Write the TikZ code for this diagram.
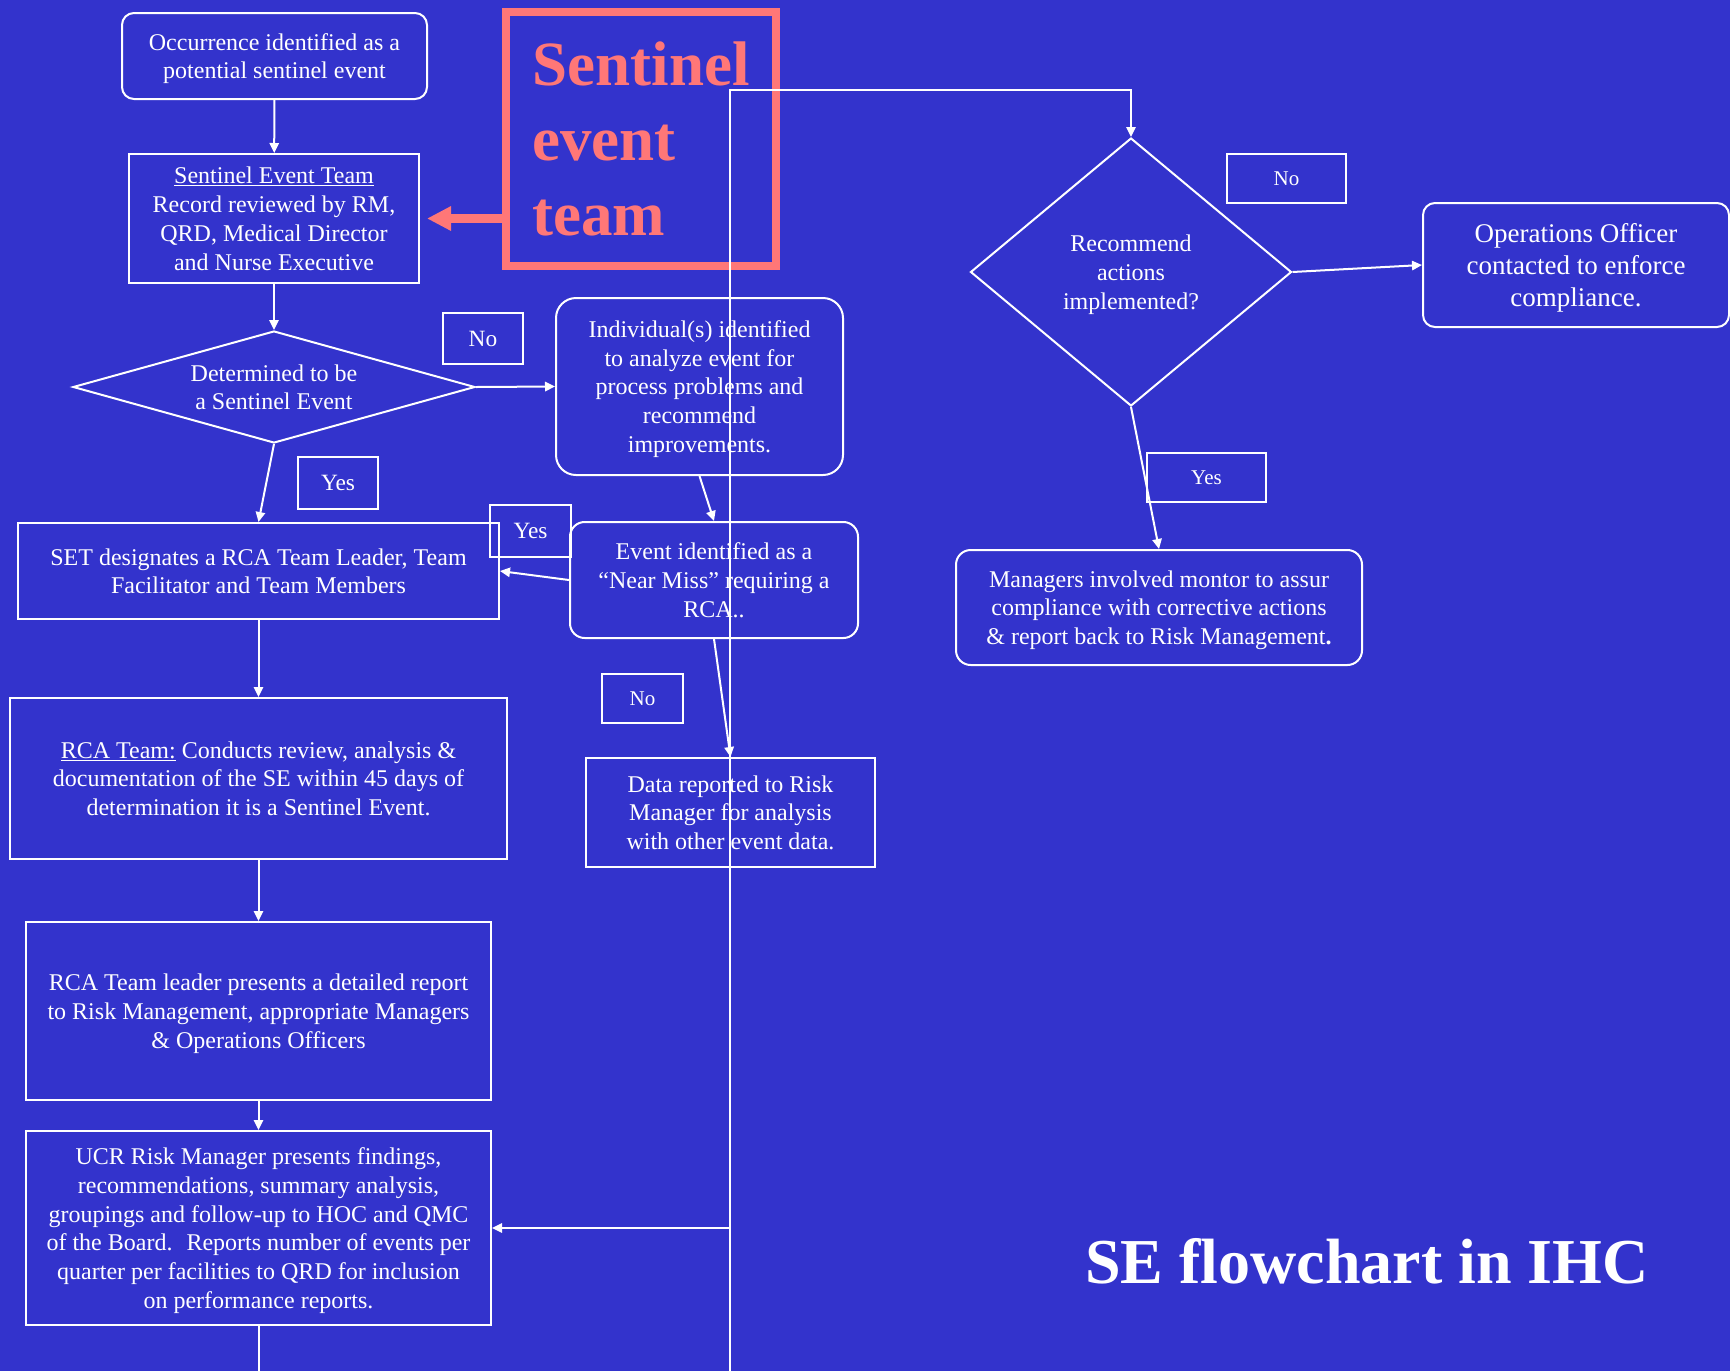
\documentclass[tikz,border=0pt]{standalone}
\usepackage{fontspec}
\setmainfont{Liberation Serif}
\usepackage{tikz}
\usetikzlibrary{shapes.geometric,arrows.meta}
\definecolor{slideblue}{RGB}{51,51,204}
\definecolor{salmon}{RGB}{255,119,119}
\tikzset{
  box/.style={draw=white,line width=1.5pt,text=white,align=center,inner sep=0pt,text depth=0pt,font=\fontsize{18}{21.5}\selectfont},
  rbox/.style={box,rounded corners=9pt},
  decision/.style={box,diamond},
  tag/.style={box,font=\fontsize{17.5}{20}\selectfont},
  smalltag/.style={box,font=\fontsize{15.75}{18}\selectfont},
  link/.style={white,line width=1.5pt,-{Triangle[length=7.5pt,width=7pt]}},
  wire/.style={white,line width=1.5pt},
}

\begin{document}
\begin{tikzpicture}[x=0.75pt,y=0.75pt,yscale=-1,xscale=1]
\fill[slideblue] (0,0) rectangle (1730,1371);
\useasboundingbox (0,0) rectangle (1730,1371);
%Title box
\node[draw=salmon,line width=6pt,text=salmon,align=left,inner sep=0pt,minimum width=202.5pt,minimum height=190.5pt,font=\bfseries\fontsize{47.25}{56.25}\selectfont] (setitle) at (641,139) {Sentinel\\event\\team};
%Rounded Rect
\node[rbox,minimum width=228.75pt,minimum height=64.5pt] (occ) at (274.5,56) {Occurrence identified as a\\potential sentinel event};
%Rect
\node[box,minimum width=217.5pt,minimum height=96.75pt,font=\fontsize{18}{21.75}\selectfont] (team) at (274,218.5) {\underline{Sentinel Event Team}\\Record reviewed by RM,\\QRD, Medical Director\\and Nurse Executive};
%Diamond
\node[decision,shape aspect=3.59,minimum width=301.5pt,minimum height=84pt] (isse) at (274,387) {Determined to be\\a Sentinel Event};
%Rect
\node[box,minimum width=360.75pt,minimum height=72pt] (setd) at (258.5,571) {SET designates a RCA Team Leader, Team\\Facilitator and Team Members};
%Rect
\node[box,minimum width=372.75pt,minimum height=120.75pt] (rca) at (258.5,778.5) {\underline{RCA Team:} Conducts review, analysis \&\\documentation of the SE within 45 days of\\determination it is a Sentinel Event.};
%Rect
\node[box,minimum width=348.75pt,minimum height=133.5pt] (lead) at (258.5,1011) {RCA Team leader presents a detailed report\\to Risk Management, appropriate Managers\\\& Operations Officers};
%Rect
\node[box,minimum width=348.75pt,minimum height=145.5pt] (ucr) at (258.5,1228) {UCR Risk Manager presents findings,\\recommendations, summary analysis,\\groupings and follow-up to HOC and QMC\\of the Board.~ Reports number of events per\\quarter per facilities to QRD for inclusion\\on performance reports.};
%Rounded Rect
\node[rbox,rounded corners=15pt,minimum width=215.25pt,minimum height=132.75pt] (indiv) at (699.5,386.5) {Individual(s) identified\\to analyze event for\\process problems and\\recommend\\improvements.};
%Rounded Rect
\node[rbox,rounded corners=11pt,minimum width=216pt,minimum height=87pt] (near) at (714,580) {Event identified as a\\``Near Miss'' requiring a\\RCA..};
%Rect
\node[box,minimum width=216.75pt,minimum height=81.75pt] (data) at (730.5,812.5) {Data reported to Risk\\Manager for analysis\\with other event data.};
%Diamond
\node[decision,shape aspect=1.2,minimum width=240.75pt,minimum height=201pt] (done) at (1131,272) {Recommend\\actions\\implemented?};
%Rounded Rect
\node[rbox,minimum width=229.5pt,minimum height=93pt,font=\fontsize{20.25}{24}\selectfont] (ops) at (1576,265) {Operations Officer\\contacted to enforce\\compliance.};
%Rounded Rect
\node[rbox,rounded corners=11pt,minimum width=304.5pt,minimum height=86.25pt] (mgr) at (1159,607.5) {Managers involved montor to assur\\compliance with corrective actions\\\& report back to Risk Management\textbf{.}};
% Text Node
\node[tag,minimum width=60pt,minimum height=38.25pt] (no1) at (483,338.5) {No};
\node[tag,minimum width=60pt,minimum height=39pt] (yes1) at (338,483) {Yes};
\node[tag,minimum width=60.75pt,minimum height=39pt] (yes2) at (530.5,531) {Yes};
\node[smalltag,minimum width=60.75pt,minimum height=36.75pt] (no2) at (642.5,698.5) {No};
\node[smalltag,minimum width=89.25pt,minimum height=36.75pt] (no3) at (1286.5,178.5) {No};
\node[smalltag,minimum width=89.25pt,minimum height=36.75pt] (yes3) at (1206.5,477.5) {Yes};
\node[anchor=base,text=white,font=\bfseries\fontsize{48}{56}\selectfont] (caption) at (1367,1283) {SE flowchart in IHC};
%Straight Lines
\coordinate (vtop) at (730,90);
\coordinate (vbot) at (730,1371);
\draw[salmon,line width=6.75pt,-{Triangle[length=18pt,width=17.25pt]}] (setitle.west |- team.east) -- ([xshift=5.25pt]team.east);
\draw[link] (occ) -- (team);
\draw[link] (team) -- (isse);
\draw[link] (isse.east) -- (indiv.west);
\draw[link] (isse.south) -- (setd.north);
\draw[link] (indiv.south) -- (near.north);
\draw[link] (near.west) -- (setd.east);
\draw[link] (near.south) -- (data.north);
\draw[link] (setd) -- (rca);
\draw[link] (rca) -- (lead);
\draw[link] (lead) -- (ucr);
\draw[wire] (ucr.south) -- (ucr.south |- vbot);
\draw[link] (vbot) -- (vtop) -| (done.north);
\draw[link] (vbot |- ucr.east) -- (ucr.east);
\draw[link] (done.east) -- (ops.west);
\draw[link] (done.south) -- (mgr.north);
\end{tikzpicture}
\end{document}
